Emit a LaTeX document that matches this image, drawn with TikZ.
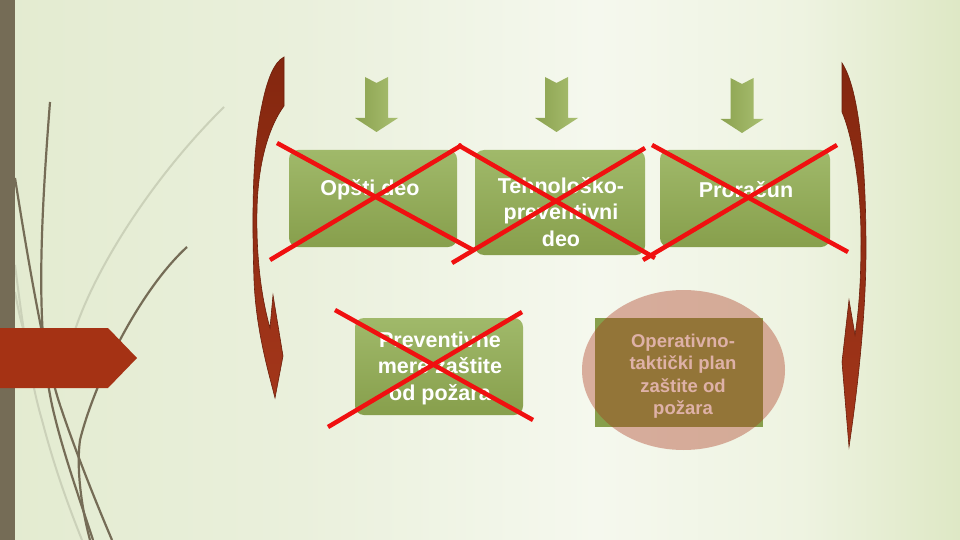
\documentclass[tikz,border=0pt]{standalone}
\usepackage{fontspec}
\setmainfont{Liberation Sans}
\usetikzlibrary{shapes.geometric}
\definecolor{bgA}{HTML}{E3EBD0}
\definecolor{bgB}{HTML}{EAF0DC}
\definecolor{bgC}{HTML}{F5F8EE}
\definecolor{bgD}{HTML}{EEF3E1}
\definecolor{bgE}{HTML}{DEE8C5}
\definecolor{barcol}{HTML}{756C56}
\definecolor{lightgrass}{HTML}{CBD1B9}
\definecolor{brick}{HTML}{A53214}
\definecolor{ellcol}{HTML}{A93319}
\definecolor{brnTop}{HTML}{84270F}
\definecolor{brnBot}{HTML}{A3361A}
\definecolor{brnEdge}{HTML}{6C1E0B}
\definecolor{gTop}{HTML}{A0B96A}
\definecolor{gBot}{HTML}{879F4C}
\definecolor{garL}{HTML}{8BA24F}
\definecolor{garR}{HTML}{A9BF71}
\definecolor{xred}{HTML}{F01010}
\pgfdeclarehorizontalshading{bgsh}{100bp}{color(0bp)=(bgA); color(25bp)=(bgA); color(40.6bp)=(bgB); color(56bp)=(bgC); color(66.7bp)=(bgD); color(75bp)=(bgE); color(100bp)=(bgE)}
\tikzset{
  gbox/.style={rectangle, rounded corners=9pt, top color=gTop, bottom color=gBot, inner sep=0pt},
  btext/.style={text=white, font=\bfseries\fontsize{21.5}{26.5}\selectfont, align=center, inner sep=0pt},
  otext/.style={text=white, font=\bfseries\fontsize{18.5}{22.5}\selectfont, align=center, inner sep=0pt},
  crossline/.style={draw=xred, line width=4.5pt},
  darkgrass/.style={draw=barcol, line width=2.2pt},
  palegrass/.style={draw=lightgrass, line width=2pt},
  brnarrow/.style={top color=brnTop, bottom color=brnBot, draw=brnEdge, line width=0.6pt},
  garrow/.pic={\shade[left color=garL, right color=garR] (-11.5,0) -- (0,6) -- (11.5,0) -- (11.5,41) -- (21.5,41) -- (0,55) -- (-21.5,41) -- (-11.5,41) -- cycle;}
}
\begin{document}
\begin{tikzpicture}[x=1pt,y=-1pt]
\useasboundingbox (0,0) rectangle (960,540);
% background
\shade[shading=bgsh] (0,0) rectangle (960,540);
% grass
\draw[palegrass] (224,107) .. controls (150,180) and (95,270) .. (75,330);
\draw[palegrass] (15,265) .. controls (22,320) and (30,380) .. (42,420) .. controls (55,470) and (70,510) .. (82,540);
\draw[palegrass] (15,292) .. controls (22,330) and (28,350) .. (33,338);
\draw[darkgrass] (50,102) .. controls (40,230) and (36,330) .. (52,405) .. controls (62,450) and (80,500) .. (93,540);
\draw[darkgrass] (15,178) .. controls (28,260) and (45,360) .. (60,405) .. controls (75,450) and (95,500) .. (112,540);
\draw[darkgrass] (187,247) .. controls (140,290) and (95,380) .. (80,440) .. controls (76,470) and (82,510) .. (90,540);
% left bar and red pentagon
\fill[barcol] (0,0) rectangle (15,540);
\fill[brick] (0,328) -- (108,328) -- (137,358) -- (108,388) -- (0,388) -- cycle;
% curved brown arrows
\path[brnarrow] (284,57) -- (284,106) .. controls (270,125) and (258,160) .. (257,210) .. controls (256,260) and (262,300) .. (270,328) -- (273,295) -- (283,356) -- (275,398) .. controls (268,370) and (256,330) .. (254,280) .. controls (252,220) and (252,150) .. (262,105) .. controls (267,80) and (274,62) .. (284,57) -- cycle;
\path[brnarrow] (842,63) -- (842,112) .. controls (852,135) and (861,185) .. (861,240) .. controls (861,280) and (859,310) .. (855,335) -- (849,300) -- (842,362) -- (849,447) .. controls (853,420) and (866,330) .. (866,250) .. controls (866,170) and (860,90) .. (842,63) -- cycle;
% green arrows
\pic (a1) at (376.5,77) {garrow};
\pic (a2) at (556.5,77) {garrow};
\pic (a3) at (742,78) {garrow};
% boxes
\node[gbox, minimum width=168pt, minimum height=97pt] (b1) at (373,198.5) {};
\node[gbox, minimum width=170pt, minimum height=105pt] (b2) at (560,202.5) {};
\node[gbox, minimum width=170pt, minimum height=97pt] (b3) at (745,198.5) {};
\node[gbox, minimum width=168pt, minimum height=97pt] (b4) at (439,366.5) {};
\node[rectangle, fill=gBot, minimum width=168pt, minimum height=109pt, inner sep=0pt] (b5) at (679,372.5) {};
% texts
\node[btext] (t1) at (370,190) {Opšti deo};
\node[btext] (t2) at (561,212) {Tehnološko-\\preventivni\\deo};
\node[btext] (t3) at (746,190) {Proračun};
\node[btext] (t4) at (440,368) {Preventivne\\mere zaštite\\od požara};
\node[otext] (t5) at (683,376) {Operativno-\\taktički plan\\zaštite od\\požara};
% ellipse overlay
\node[ellipse, fill=ellcol, fill opacity=0.38, minimum width=203pt, minimum height=160pt, inner sep=0pt] (e1) at (683.5,370) {};
% crosses
\coordinate (c1a) at (277,143); \coordinate (c1b) at (473,250);
\coordinate (c1c) at (270,260); \coordinate (c1d) at (462,145);
\coordinate (c2a) at (458,145); \coordinate (c2b) at (655,258);
\coordinate (c2c) at (452,263); \coordinate (c2d) at (645,148);
\coordinate (c3a) at (652,145); \coordinate (c3b) at (848,252);
\coordinate (c3c) at (643,260); \coordinate (c3d) at (837,145);
\coordinate (c4a) at (335,310); \coordinate (c4b) at (533,420);
\coordinate (c4c) at (328,427); \coordinate (c4d) at (522,312);
\draw[crossline] (c1a) -- (c1b);
\draw[crossline] (c1c) -- (c1d);
\draw[crossline] (c2a) -- (c2b);
\draw[crossline] (c2c) -- (c2d);
\draw[crossline] (c3a) -- (c3b);
\draw[crossline] (c3c) -- (c3d);
\draw[crossline] (c4a) -- (c4b);
\draw[crossline] (c4c) -- (c4d);
\end{tikzpicture}
\end{document}
